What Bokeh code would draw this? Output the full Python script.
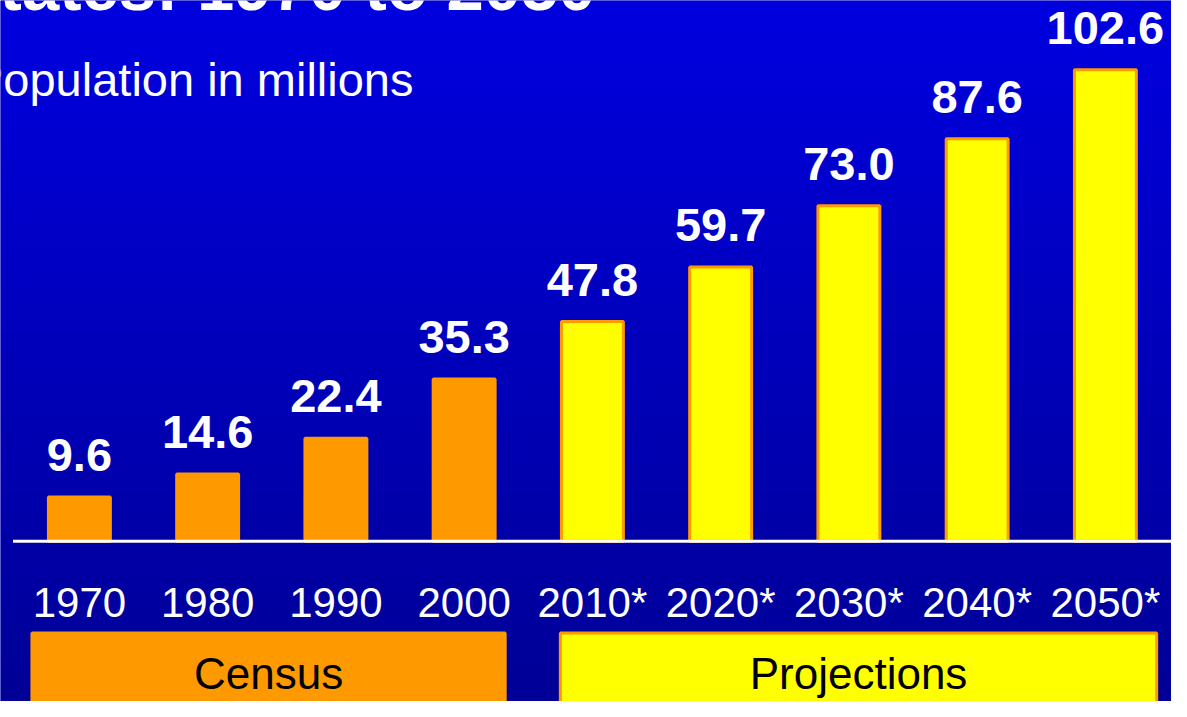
import numpy as np
from bokeh.plotting import figure
from bokeh.models import ColumnDataSource, LabelSet, FixedTicker, Range1d
from bokeh.core.properties import value
from bokeh.embed import file_html
from bokeh.resources import INLINE

# ---- data ----
years = ["1970", "1980", "1990", "2000", "2010*", "2020*", "2030*", "2040*", "2050*"]
population = [9.6, 14.6, 22.4, 35.3, 47.8, 59.7, 73.0, 87.6, 102.6]
value_labels = ["9.6", "14.6", "22.4", "35.3", "47.8", "59.7", "73.0", "87.6", "102.6"]
kind = ["Census", "Census", "Census", "Census",
        "Projections", "Projections", "Projections", "Projections", "Projections"]
groups = ["Census", "Projections"]
title_text = "States: 1970 to 2050"
subtitle_text = "Population in millions"

# ---- styling / layout (pixel constants of the figure) ----
W, H = 1171, 701
PX_PER_CAT = 128.25
PX_PER_UNIT = 4.595
FIRST_CENTER_PX = 78.9
BASELINE_PX = 540.7

ORANGE = "#ff9900"
YELLOW = "#ffff00"
FONT = "Liberation Sans"

x_start = -FIRST_CENTER_PX / PX_PER_CAT
x_end = x_start + W / PX_PER_CAT
y_end = BASELINE_PX / PX_PER_UNIT
y_start = y_end - H / PX_PER_UNIT


def fx(px):
    return (px - FIRST_CENTER_PX) / PX_PER_CAT


def fy(py):
    return (BASELINE_PX - py) / PX_PER_UNIT


p = figure(width=W, height=H, output_backend="svg", toolbar_location=None,
           x_range=Range1d(x_start, x_end), y_range=Range1d(y_start, y_end),
           min_border=0, min_border_left=0, min_border_right=0,
           min_border_top=0, min_border_bottom=0)
p.outline_line_color = None
p.grid.visible = False
p.yaxis.visible = False
p.background_fill_color = "#0000bb"
p.border_fill_color = "#0000bb"

# vertical blue gradient background
n = 350
img = np.empty((n, 1), dtype=np.uint32)
view = img.view(dtype=np.uint8).reshape((n, 1, 4))
blues = np.linspace(150, 224, n)  # bottom -> top
view[:, 0, 0] = 0
view[:, 0, 1] = 0
view[:, 0, 2] = blues.astype(np.uint8)
view[:, 0, 3] = 255
p.image_rgba(image=[img], x=x_start, y=y_start, dw=x_end - x_start, dh=y_end - y_start)

idx = list(range(len(years)))
fills = [ORANGE if k == "Census" else YELLOW for k in kind]
src = ColumnDataSource(dict(x=idx, top=population, label=value_labels, fill=fills))

p.vbar(x="x", top="top", bottom=0, width=0.483, fill_color="fill",
       line_color=ORANGE, line_width=3, source=src)

# white baseline
p.segment(x0=[fx(12.5)], y0=[0], x1=[x_end], y1=[0], line_color="white", line_width=3)

labels = LabelSet(x="x", y="top", text="label", source=src, text_align="center",
                  text_baseline="alphabetic", y_offset=26, text_color="white",
                  text_font_size="47px", text_font_style="bold",
                  text_font=value(FONT))
p.add_layout(labels)

# group boxes under the axis
g_left, g_right, g_center, g_fill = [], [], [], []
insets = {"Census": (0.37, 0.32), "Projections": (0.25, 0.40)}
for g in groups:
    members = [i for i, k in enumerate(kind) if k == g]
    l = members[0] - insets[g][0]
    r = members[-1] + insets[g][1]
    g_left.append(l)
    g_right.append(r)
    g_center.append((l + r) / 2)
    g_fill.append(ORANGE if g == "Census" else YELLOW)
gsrc = ColumnDataSource(dict(left=g_left, right=g_right, cx=g_center, fill=g_fill,
                             name=groups))
p.quad(left="left", right="right", top=fy(632.6), bottom=y_start - 10,
       fill_color="fill", line_color=ORANGE, line_width=3, source=gsrc)
p.text(x="cx", y=fy(672.6), text="name", source=gsrc, text_align="center",
       text_baseline="middle", text_color="black", text_font_size="44px",
       text_font=value(FONT))

# title (clipped at top, as in the slide) and subtitle
p.text(x=[fx(595)], y=[fy(-14.2)], text=[title_text],
       text_align="right", text_baseline="middle", text_color="white",
       text_font_size="67px", text_font_style="bold", text_font=value(FONT))
p.text(x=[fx(413)], y=[fy(79.0)], text=[subtitle_text],
       text_align="right", text_baseline="middle", text_color="white",
       text_font_size="47px", text_font=value(FONT))

# x axis with the year labels
ax = p.xaxis[0]
ax.fixed_location = 0
ax.ticker = FixedTicker(ticks=idx)
ax.major_label_overrides = {i: y for i, y in zip(idx, years)}
ax.axis_line_color = None
ax.major_tick_line_color = None
ax.minor_tick_line_color = None
ax.major_label_text_color = "white"
ax.major_label_text_font = FONT
ax.major_label_text_font_size = "42px"
ax.major_label_standoff = 32

open("out.html", "w").write(file_html(p, INLINE))
